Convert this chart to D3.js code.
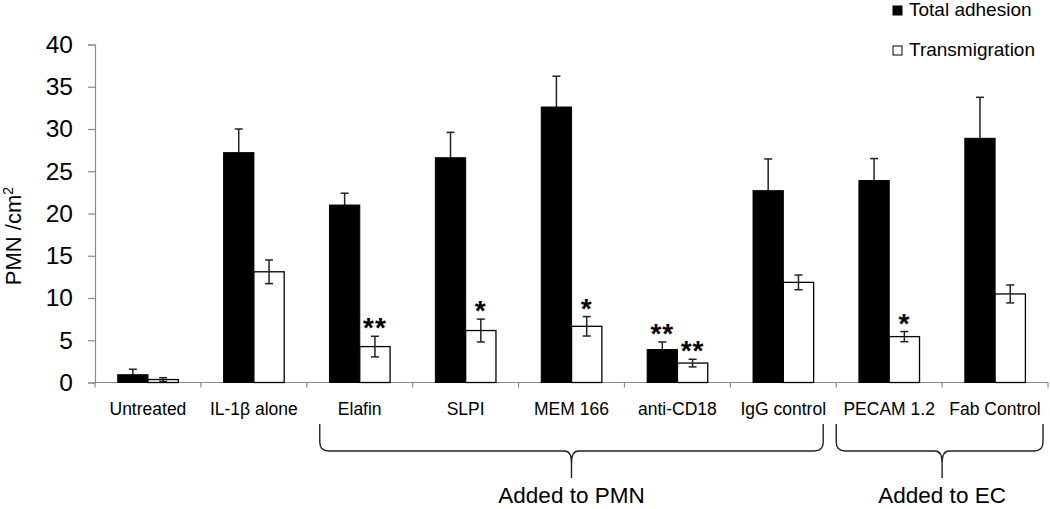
<!DOCTYPE html>
<html>
<head>
<meta charset="utf-8">
<script src="https://cdn.jsdelivr.net/npm/d3@7"></script>
<style>
  html, body { margin: 0; padding: 0; background: #fff; }
  svg { display: block; font-family: "Liberation Sans", Arial, sans-serif; }
</style>
</head>
<body>
<svg id="chart" width="1050" height="509"></svg>
<script>
const categories = ["Untreated", "IL-1β alone", "Elafin", "SLPI", "MEM 166", "anti-CD18", "IgG control", "PECAM 1.2", "Fab Control"];
const adhesion = [0.92, 27.2, 21.0, 26.6, 32.6, 3.9, 22.7, 23.9, 28.9];
const adhesionErr = [0.65, 2.8, 1.4, 3.0, 3.65, 0.9, 3.75, 2.6, 4.85];
const transmigration = [0.35, 13.1, 4.25, 6.15, 6.65, 2.3, 11.85, 5.43, 10.48];
const transmigrationErr = [0.22, 1.4, 1.22, 1.35, 1.15, 0.45, 0.87, 0.6, 1.06];
const adhesionSig = ["", "", "", "", "", "**", "", "", ""];
const transmigrationSig = ["", "", "**", "*", "*", "**", "", "*", ""];
const yTicks = [0, 5, 10, 15, 20, 25, 30, 35, 40];
const seriesNames = ["Total adhesion", "Transmigration"];
const groupLabels = ["Added to PMN", "Added to EC"];
const groupFrom = ["Elafin", "PECAM 1.2"];
const groupTo = ["IgG control", "Fab Control"];

const svg = d3.select("#chart");
const axisColor = "#8a8a8a";

const x = d3.scaleBand().domain(categories).range([95, 1048]).padding(0);
const sub = d3.scaleBand().domain(["a", "t"]).range([22.7, 83.3]).padding(0);
const y = d3.scaleLinear().domain([0, 40]).range([382.5, 44.5]);

// y axis
const yAxis = svg.append("g").attr("transform", "translate(95,0)")
  .call(d3.axisLeft(y).tickValues(yTicks).tickSize(7).tickPadding(15).tickFormat(d3.format("d")));
yAxis.select(".domain").attr("stroke", axisColor).attr("stroke-width", 1.2);
yAxis.selectAll(".tick line").attr("stroke", axisColor).attr("stroke-width", 1.2);
yAxis.selectAll(".tick text").attr("fill", "#000").style("font-size", "24.5px")
  .style("font-family", "'Liberation Sans', Arial, sans-serif");

// y label
svg.append("text")
  .attr("transform", "translate(21,236) rotate(-90)")
  .attr("text-anchor", "middle")
  .style("font-size", "22px")
  .html('PMN /cm<tspan baseline-shift="super" font-size="14px">2</tspan>');

// x axis line + boundary ticks
const [x0, x1] = x.range();
svg.append("line").attr("x1", x0).attr("x2", x1).attr("y1", y(0)).attr("y2", y(0))
  .attr("stroke", axisColor).attr("stroke-width", 1.2);
const bounds = categories.map(c => x(c)).concat([x1]);
svg.selectAll(".xtick").data(bounds).enter().append("line")
  .attr("x1", d => d).attr("x2", d => d).attr("y1", y(0)).attr("y2", y(0) + 5)
  .attr("stroke", axisColor).attr("stroke-width", 1.2);

// category labels
svg.selectAll(".cat").data(categories).enter().append("text")
  .attr("x", d => x(d) + x.bandwidth() / 2)
  .attr("y", 415)
  .attr("text-anchor", "middle")
  .style("font-size", "17.5px")
  .text(d => d);

// bars
const rows = categories.map((c, i) => ({
  c,
  a: adhesion[i], ae: adhesionErr[i], as: adhesionSig[i],
  t: transmigration[i], te: transmigrationErr[i], ts: transmigrationSig[i]
}));

const g = svg.selectAll(".grp").data(rows).enter().append("g")
  .attr("transform", d => `translate(${x(d.c)},0)`);

const ac = sub("a") + sub.bandwidth() / 2;
g.append("line")
  .attr("x1", ac).attr("x2", ac)
  .attr("y1", d => y(d.a)).attr("y2", d => y(d.a + d.ae))
  .attr("stroke", "#222").attr("stroke-width", 1.5);
g.append("line")
  .attr("x1", ac - 4).attr("x2", ac + 4)
  .attr("y1", d => y(d.a + d.ae)).attr("y2", d => y(d.a + d.ae))
  .attr("stroke", "#222").attr("stroke-width", 1.5);

g.append("rect")
  .attr("x", sub("a")).attr("width", sub.bandwidth())
  .attr("y", d => y(d.a)).attr("height", d => y(0) - y(d.a))
  .attr("fill", "#000").attr("stroke", "#000").attr("stroke-width", 1);

g.append("rect")
  .attr("x", sub("t")).attr("width", sub.bandwidth())
  .attr("y", d => y(d.t)).attr("height", d => y(0) - y(d.t))
  .attr("fill", "#fff").attr("stroke", "#000").attr("stroke-width", 1.3);

const tc = sub("t") + sub.bandwidth() / 2;
g.append("line")
  .attr("x1", tc).attr("x2", tc)
  .attr("y1", d => y(d.t - d.te)).attr("y2", d => y(d.t + d.te))
  .attr("stroke", "#222").attr("stroke-width", 1.5);
g.append("line")
  .attr("x1", tc - 4).attr("x2", tc + 4)
  .attr("y1", d => y(d.t + d.te)).attr("y2", d => y(d.t + d.te))
  .attr("stroke", "#222").attr("stroke-width", 1.5);
g.append("line")
  .attr("x1", tc - 4).attr("x2", tc + 4)
  .attr("y1", d => y(d.t - d.te)).attr("y2", d => y(d.t - d.te))
  .attr("stroke", "#222").attr("stroke-width", 1.5);

// significance stars
g.append("text")
  .attr("x", ac)
  .attr("y", d => y(d.a + d.ae) + 1)
  .attr("text-anchor", "middle")
  .style("font-size", "28px").style("font-weight", "bold").style("letter-spacing", "1px")
  .text(d => d.as);
g.append("text")
  .attr("x", tc)
  .attr("y", d => y(d.t + d.te) + 1)
  .attr("text-anchor", "middle")
  .style("font-size", "28px").style("font-weight", "bold").style("letter-spacing", "1px")
  .text(d => d.ts);

// braces
const braceInsetL = [13, 0];
const braceInsetR = [13, 5];
groupLabels.forEach((label, i) => {
  const left = x(groupFrom[i]) + braceInsetL[i];
  const right = x(groupTo[i]) + x.bandwidth() - braceInsetR[i];
  const cx = (x(groupFrom[i]) + x(groupTo[i]) + x.bandwidth()) / 2;
  const top = 424, mid = 451, tip = 478, r = 9;
  const p = d3.path();
  p.moveTo(left, top);
  p.lineTo(left, mid - r);
  p.quadraticCurveTo(left, mid, left + r, mid);
  p.lineTo(cx - 7, mid);
  p.quadraticCurveTo(cx, mid, cx, mid + 12);
  p.lineTo(cx, tip);
  p.moveTo(right, top);
  p.lineTo(right, mid - r);
  p.quadraticCurveTo(right, mid, right - r, mid);
  p.lineTo(cx + 7, mid);
  p.quadraticCurveTo(cx, mid, cx, mid + 12);
  svg.append("path").attr("d", p.toString()).attr("fill", "none")
    .attr("stroke", "#222").attr("stroke-width", 1.4);
  svg.append("text").attr("x", cx).attr("y", 503).attr("text-anchor", "middle")
    .style("font-size", "22.5px").text(label);
});

// legend
const legend = svg.selectAll(".leg").data(seriesNames).enter().append("g")
  .attr("transform", (d, i) => `translate(893,${i * 40})`);
legend.append("rect").attr("x", 0).attr("y", 6).attr("width", 9).attr("height", 9)
  .attr("fill", (d, i) => i === 0 ? "#000" : "#fff").attr("stroke", "#000").attr("stroke-width", 1);
legend.append("text").attr("x", 16).attr("y", 16).style("font-size", "19px").text(d => d);
</script>
</body>
</html>
